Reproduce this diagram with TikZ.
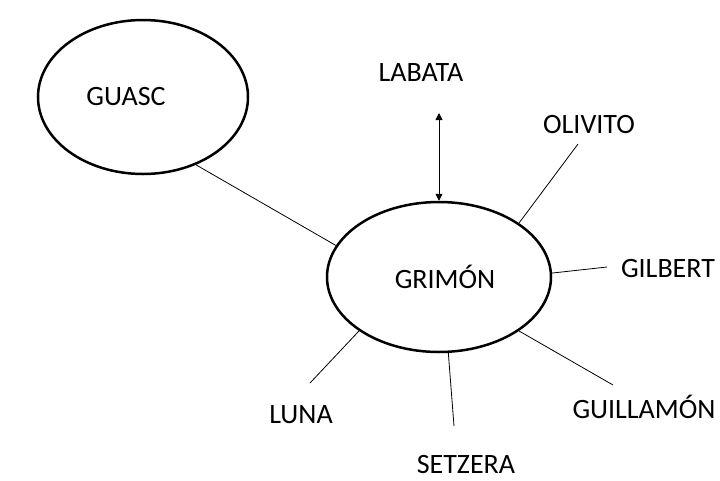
\documentclass[tikz,border=0pt]{standalone}
\usepackage{fontspec}
\setmainfont{Carlito}
\usepackage{tikz}
\usetikzlibrary{shapes.geometric,arrows.meta}

\tikzset{
    bubble/.style={ellipse, draw, line width=2.5pt, inner sep=0pt},
    tag/.style={anchor=base, inner sep=0pt},
    spoke/.style={line width=0.8pt}
}

\begin{document}
\begin{tikzpicture}[x=1pt, y=-1pt, every node/.style={font=\fontsize{28}{32}\selectfont}]
    \useasboundingbox (0,0) rectangle (720,480);
    % the two circles
    \node[bubble, minimum width=210pt, minimum height=154pt] (guasc) at (143,97) {\hspace{-34pt}GUASC};
    \node[bubble, minimum width=224pt, minimum height=150pt] (grimon) at (439,277) {\hspace{12pt}GRIMÓN};
    % names round GRIMÓN
    \node[tag] (labata) at (421,81) {LABATA};
    \node[tag] (olivito) at (589,133) {OLIVITO};
    \node[tag] (gilbert) at (668,277) {GILBERT};
    \node[tag] (guillamon) at (644,418) {GUILLAMÓN};
    \node[tag] (setzera) at (466,473) {SETZERA};
    \node[tag] (luna) at (301,423) {LUNA};
    % free ends of the spokes
    \coordinate (labataEnd) at (439,113);
    \coordinate (olivitoEnd) at (578,144);
    \coordinate (gilbertEnd) at (607,267);
    \coordinate (guillamonEnd) at (613,385);
    \coordinate (setzeraEnd) at (454,426);
    \coordinate (lunaEnd) at (310,383);
    % connectors
    \draw[spoke] (guasc.-52) -- (grimon.163);
    \draw[spoke, {Triangle[length=7pt,width=7pt]}-{Triangle[length=7pt,width=7pt]}] (labataEnd) -- (grimon.north);
    \draw[spoke] (grimon.34) -- (olivitoEnd);
    \draw[spoke] (grimon.2) -- (gilbertEnd);
    \draw[spoke] (grimon.-34) -- (guillamonEnd);
    \draw[spoke] (grimon.-83) -- (setzeraEnd);
    \draw[spoke] (grimon.-146) -- (lunaEnd);
\end{tikzpicture}
\end{document}
